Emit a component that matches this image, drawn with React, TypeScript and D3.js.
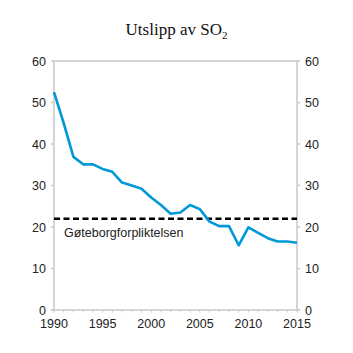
import React, { useEffect, useRef } from "react";
import * as d3 from "d3";

const years = d3.range(1990, 2016);
const emissions = [
  52.5, 45.0, 36.9, 35.1, 35.1, 34.0, 33.3, 30.7, 30.0, 29.2, 27.1, 25.3, 23.2,
  23.5, 25.3, 24.3, 21.3, 20.2, 20.2, 15.6, 19.9, 18.6, 17.3, 16.5, 16.5, 16.2,
];
const target = 22;
const targetLabel = "Gøteborgforpliktelsen";
const yTicks = [0, 10, 20, 30, 40, 50, 60];
const xTickLabels = [1990, 1995, 2000, 2005, 2010, 2015];

const App = () => {
  const ref = useRef<SVGSVGElement>(null);

  useEffect(() => {
    const width = 353;
    const height = 353;
    const margin = { top: 61, right: 56, bottom: 43, left: 54 };

    const svg = d3.select(ref.current);
    svg.selectAll("*").remove();

    const x = d3
      .scaleLinear()
      .domain([1990, 2015])
      .range([margin.left, width - margin.right]);
    const y = d3
      .scaleLinear()
      .domain([0, 60])
      .range([height - margin.bottom, margin.top]);

    const axisColor = "#c8c8c8";
    const textColor = "#222";
    const font = "Liberation Sans, Arial, sans-serif";

    // title
    const title = svg
      .append("text")
      .attr("x", width / 2)
      .attr("y", 35)
      .attr("text-anchor", "middle")
      .attr("font-family", "Liberation Serif, serif")
      .attr("font-size", 17)
      .attr("fill", "#111");
    title.append("tspan").text("Utslipp av SO");
    title.append("tspan").attr("font-size", 11).attr("dy", 4).text("2");

    // frame lines
    const g = svg.append("g");
    g.append("line")
      .attr("x1", x(1990)).attr("x2", x(2015))
      .attr("y1", y(60)).attr("y2", y(60))
      .attr("stroke", axisColor).attr("stroke-width", 1.5);
    g.append("line")
      .attr("x1", x(1990) - 3).attr("x2", x(2015) + 3)
      .attr("y1", y(0)).attr("y2", y(0))
      .attr("stroke", axisColor).attr("stroke-width", 1.5);
    [x(1990), x(2015)].forEach((px) => {
      g.append("line")
        .attr("x1", px).attr("x2", px)
        .attr("y1", y(0)).attr("y2", y(60))
        .attr("stroke", axisColor).attr("stroke-width", 1.5);
    });

    // y ticks both sides
    yTicks.forEach((t) => {
      g.append("line")
        .attr("x1", x(1990) - 3).attr("x2", x(1990))
        .attr("y1", y(t)).attr("y2", y(t))
        .attr("stroke", axisColor).attr("stroke-width", 1.5);
      g.append("line")
        .attr("x1", x(2015)).attr("x2", x(2015) + 3)
        .attr("y1", y(t)).attr("y2", y(t))
        .attr("stroke", axisColor).attr("stroke-width", 1.5);
      g.append("text")
        .attr("x", x(1990) - 8).attr("y", y(t) + 4.5)
        .attr("text-anchor", "end")
        .attr("font-family", font)
        .attr("font-size", 12.5).attr("fill", textColor)
        .text(t);
      g.append("text")
        .attr("x", x(2015) + 8).attr("y", y(t) + 4.5)
        .attr("text-anchor", "start")
        .attr("font-family", font)
        .attr("font-size", 12.5).attr("fill", textColor)
        .text(t);
    });

    // x ticks
    years.forEach((yr) => {
      g.append("line")
        .attr("x1", x(yr)).attr("x2", x(yr))
        .attr("y1", y(0)).attr("y2", y(0) + 2.5)
        .attr("stroke", axisColor).attr("stroke-width", 1);
    });
    xTickLabels.forEach((yr) => {
      g.append("text")
        .attr("x", x(yr)).attr("y", y(0) + 18)
        .attr("text-anchor", "middle")
        .attr("font-family", font)
        .attr("font-size", 12.5).attr("fill", textColor)
        .text(yr);
    });

    // target dashed line
    svg.append("line")
      .attr("x1", x(1990)).attr("x2", x(2015))
      .attr("y1", y(target)).attr("y2", y(target))
      .attr("stroke", "#000").attr("stroke-width", 2.5)
      .attr("stroke-dasharray", "6,3.5");
    svg.append("text")
      .attr("x", x(1990) + 10).attr("y", y(target) + 18)
      .attr("font-family", font)
      .attr("font-size", 12.5).attr("fill", textColor)
      .text(targetLabel);

    // emissions line
    const line = d3
      .line<number>()
      .x((_, i) => x(years[i]))
      .y((d) => y(d));
    svg.append("path")
      .datum(emissions)
      .attr("d", line)
      .attr("fill", "none")
      .attr("stroke", "#0098d8")
      .attr("stroke-width", 2.6)
      .attr("stroke-linejoin", "round");
  }, []);

  return (
    <svg
      ref={ref}
      width={353}
      height={353}
      style={{ position: "absolute", left: 0, top: 0, background: "#fff" }}
    />
  );
};

export default App;
